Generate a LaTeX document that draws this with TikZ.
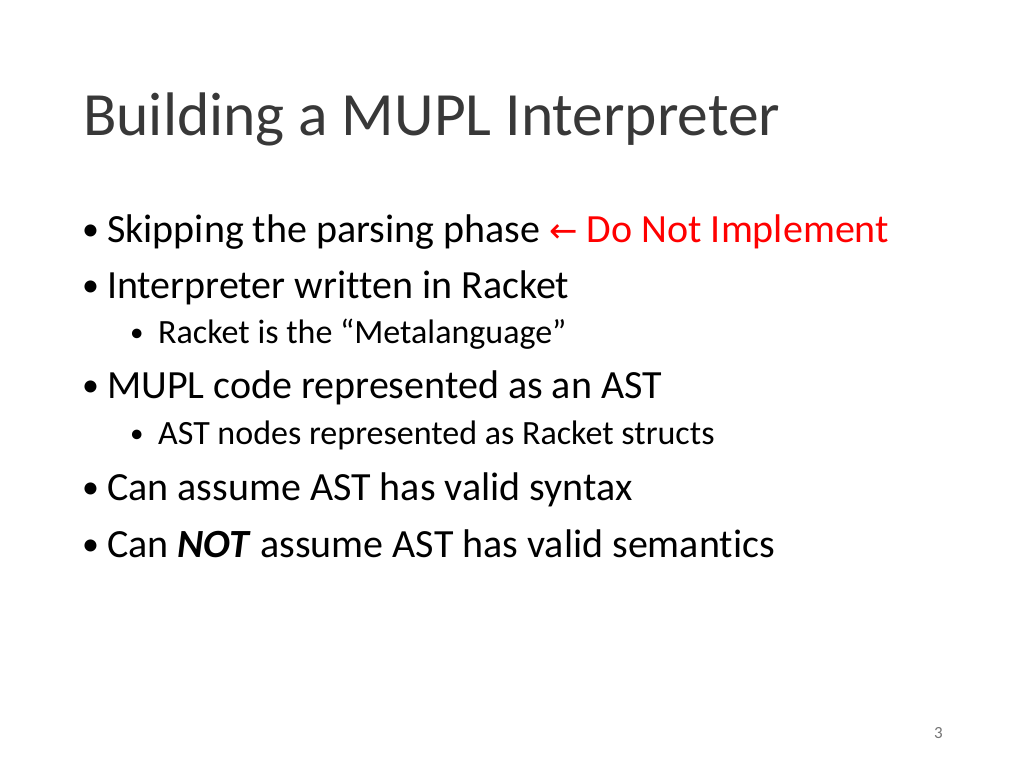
\documentclass[tikz,border=0pt]{standalone}
\usepackage{fontspec}
\setmainfont[Ligatures=NoCommon]{Carlito}
\newfontfamily\arrowfont{DejaVu Sans}
\definecolor{slred}{RGB}{255,0,0}
\begin{document}
\begin{tikzpicture}[x=1pt,y=-1pt,
  title/.style={anchor=base west,inner sep=0,font=\fontsize{61.5}{64}\selectfont,text=black!78},
  lvl/.style={anchor=base west,inner sep=0,font=\fontsize{40}{44}\selectfont},
  sublvl/.style={anchor=base west,inner sep=0,font=\fontsize{34}{38}\selectfont},
  bul/.style={anchor=base west,inner sep=0,font=\fontsize{34}{38}\selectfont},
  subbul/.style={anchor=base west,inner sep=0,font=\fontsize{27}{30}\selectfont}]
\useasboundingbox (0,0) rectangle (1024,768);
\node[title] (t) at (83,135) {Building a MUPL Interpreter};
\node[bul] (b1) at (82,240) {•};
\node[lvl] (l1) at (107,242) {Skipping the parsing phase \textcolor{slred}{{\arrowfont\fontsize{34}{38}\selectfont ←} Do Not Implement}};
\node[bul] (b2) at (82,296) {•};
\node[lvl] (l2) at (107,298) {Interpreter written in Racket};
\node[subbul] (s1b) at (130,341) {•};
\node[sublvl] (s1) at (158,343) {Racket is the “Metalanguage”};
\node[bul] (b3) at (82,396) {•};
\node[lvl] (l3) at (107,398) {MUPL code represented as an AST};
\node[subbul] (s2b) at (130,442) {•};
\node[sublvl] (s2) at (158,444) {AST nodes represented as Racket structs};
\node[bul] (b4) at (82,498) {•};
\node[lvl] (l4) at (107,500) {Can assume AST has valid syntax};
\node[bul] (b5) at (82,555) {•};
\node[lvl] (l5) at (107,557) {Can \textbf{\textit{NOT}} assume AST has valid semantics};
\node[anchor=base east,inner sep=0,font=\fontsize{17}{19}\selectfont,text=black!55] (pn) at (943,738) {3};
\end{tikzpicture}
\end{document}
